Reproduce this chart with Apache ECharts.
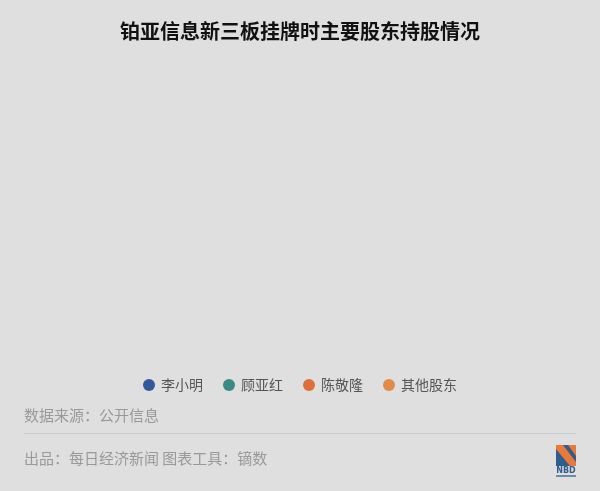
<!DOCTYPE html>
<html><head><meta charset="utf-8">
<script src="https://cdn.jsdelivr.net/npm/echarts@6/dist/echarts.min.js"></script>
<style>html,body{margin:0;padding:0;background:#dfdfdf}#c{width:600px;height:491px}</style>
</head><body><div id="c"></div>
<script>
const titleText = '铂亚信息新三板挂牌时主要股东持股情况';
const holders = ['李小明', '顾亚红', '陈敬隆', '其他股东'];
// the reference shows no slices, so the shares are not readable
const shares = [null, null, null, null];
const colors = ['#34589a', '#3b8a84', '#de6f3c', '#e08a4c'];
const sourceText = '数据来源：公开信息';
const footerText = '出品：每日经济新闻 图表工具：镝数';

const chart = echarts.init(document.getElementById('c'), null, {renderer: 'canvas'});
const font = '"Noto Sans CJK SC", sans-serif';
chart.setOption({
  backgroundColor: '#dfdfdf',
  animation: false,
  color: colors,
  title: {
    text: titleText, left: 'center', top: 16,
    textStyle: {fontFamily: font, fontSize: 20, fontWeight: 'bold', color: '#111'}
  },
  legend: {
    data: holders, top: 373, left: 'center', icon: 'circle',
    itemWidth: 12, itemHeight: 12, itemGap: 20,
    textStyle: {fontFamily: font, fontSize: 14, color: '#555', padding: [0, 0, 0, 1]}
  },
  series: [{
    type: 'pie', radius: ['0%', '60%'], center: ['50%', '45%'],
    stillShowZeroSum: false,
    label: {show: false},
    data: holders.map((n, i) => ({name: n, value: shares[i]}))
  }],
  graphic: [
    {type: 'text', left: 24, top: 408, style: {text: sourceText, fontFamily: font, fontSize: 15, fill: '#999'}},
    {type: 'line', shape: {x1: 24, y1: 433.5, x2: 576, y2: 433.5}, style: {stroke: '#cbcbcb', lineWidth: 1}},
    {type: 'text', left: 24, top: 451, style: {text: footerText, fontFamily: font, fontSize: 15, fill: '#999'}},
    // NBD logo
    {type: 'rect', shape: {x: 556, y: 445, width: 20, height: 21}, style: {fill: '#2f5d8c'}},
    {type: 'polygon', shape: {points: [[556,445],[563,445],[576,462],[576,466],[570,466],[556,449]]}, style: {fill: '#e8793a'}},
    {type: 'polygon', shape: {points: [[568,445],[576,445],[576,456]]}, style: {fill: '#e8793a'}},
    {type: 'text', x: 566, y: 467, style: {text: 'NBD', fontFamily: 'DejaVu Sans', fontWeight: 'bold', fontSize: 8, fill: '#2f5d8c', align: 'center'}},
    {type: 'rect', shape: {x: 556, y: 475, width: 20, height: 2}, style: {fill: '#6f8aa6'}}
  ]
});
</script></body></html>
